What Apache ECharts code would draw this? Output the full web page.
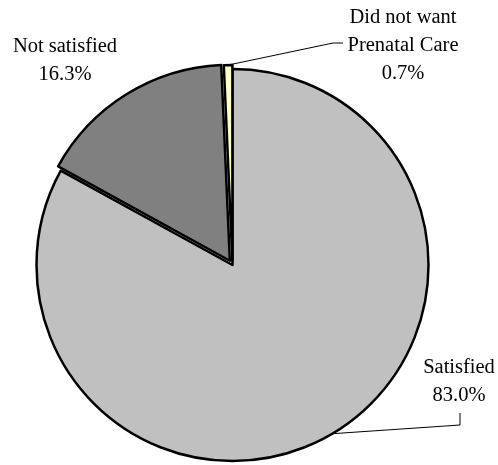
<!DOCTYPE html>
<html>
<head>
<meta charset="utf-8">
<script src="https://cdn.jsdelivr.net/npm/echarts@6/dist/echarts.min.js"></script>
<style>
  html, body { margin: 0; padding: 0; background: #fff; }
  #chart { width: 498px; height: 465px; }
</style>
</head>
<body>
<div id="chart"></div>
<script>
// Satisfaction with prenatal care
const categories = ['Satisfied', 'Not satisfied', 'Did not want\nPrenatal Care'];
const shares = [83.0, 16.3, 0.7];
const sliceColors = ['#C0C0C0', '#808080', '#FFFFCC'];

// Pie geometry and per-slice pull-out distance (px)
const pieCenter = [232.5, 265];
const pieRadius = 196;
const pullOut = [0, 5, 4];

// Label placement: centre x, top y, and leader-line bend points (null = no line)
const labelSpots = [
  { x: 459, y: 354, line: [[460, 425], [460, 413]] },
  { x: 65, y: 33, line: null },
  { x: 403, y: 4, line: [[333, 43], [343, 43]] }
];

const total = shares.reduce((a, b) => a + b, 0);

// Mid-angle of each slice, clockwise from 12 o'clock (radians)
const midAngles = [];
{
  let acc = 0;
  shares.forEach(v => {
    midAngles.push(((acc + v / 2) / total) * Math.PI * 2);
    acc += v;
  });
}

const hidden = {
  itemStyle: { color: 'rgba(0,0,0,0)', borderWidth: 0 },
  label: { show: false },
  labelLine: { show: false }
};

// One pie layer per slice so each slice can be pulled out on its own
const series = categories.map((_, k) => {
  const a = midAngles[k];
  const cx = pieCenter[0] + pullOut[k] * Math.sin(a);
  const cy = pieCenter[1] - pullOut[k] * Math.cos(a);
  const spot = labelSpots[k];
  return {
    type: 'pie',
    center: [cx, cy],
    radius: [0, pieRadius],
    startAngle: 90,
    clockwise: true,
    avoidLabelOverlap: false,
    silent: true,
    z: 2 + k,
    itemStyle: { borderColor: '#000', borderWidth: 2.5 },
    emphasis: { disabled: true },
    label: {
      show: true,
      position: 'outside',
      fontFamily: 'Liberation Serif',
      fontSize: 20.5,
      lineHeight: 28,
      color: '#000',
      align: 'center',
      formatter: p => p.name + '\n' + p.value.toFixed(1) + '%'
    },
    labelLine: {
      show: !!spot.line,
      length: 10,
      length2: 10,
      lineStyle: { color: '#000', width: 1 }
    },
    labelLayout: p => {
      if (p.dataIndex !== k) return {};
      const out = { x: spot.x, y: spot.y, align: 'center', verticalAlign: 'top' };
      if (spot.line && p.labelLinePoints) {
        out.labelLinePoints = [p.labelLinePoints[0]].concat(spot.line);
      }
      return out;
    },
    data: categories.map((name, i) => {
      const item = { name, value: shares[i] };
      if (i === k) {
        item.itemStyle = { color: sliceColors[i] };
      } else {
        Object.assign(item, hidden);
      }
      return item;
    })
  };
});

const chart = echarts.init(document.getElementById('chart'), null, { renderer: 'canvas' });
chart.setOption({ animation: false, series });
</script>
</body>
</html>
